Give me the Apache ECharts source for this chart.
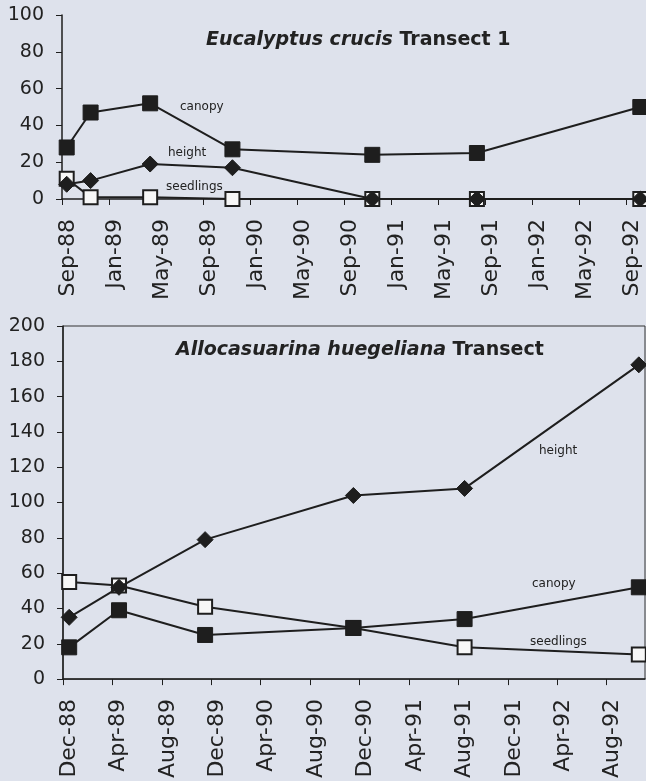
<!DOCTYPE html>
<html>
<head>
<meta charset="utf-8">
<script src="https://cdn.jsdelivr.net/npm/echarts@6/dist/echarts.min.js"></script>
<style>
html,body{margin:0;padding:0;background:#dee2ec;}
#c{width:646px;height:781px;}
</style>
</head>
<body>
<div id="c"></div>
<script>
// ---- Top chart: Eucalyptus crucis Transect 1 ----
const topStart = '1988-09';
const topTickLabels = ['Sep-88','Jan-89','May-89','Sep-89','Jan-90','May-90','Sep-90','Jan-91','May-91','Sep-91','Jan-92','May-92','Sep-92'];
const topDates = ['1988-09-13','1988-11-14','1989-04-16','1989-11-16','1990-11-13','1991-08-10','1992-10-07'];
const topCanopy = [28, 47, 52, 27, 24, 25, 50];
const topHeight = [8, 10, 19, 17, 0, 0, 0];
const topSeedlings = [11, 1, 1, 0, 0, 0, 0];

// ---- Bottom chart: Allocasuarina huegeliana Transect ----
const botStart = '1988-12';
const botTickLabels = ['Dec-88','Apr-89','Aug-89','Dec-89','Apr-90','Aug-90','Dec-90','Apr-91','Aug-91','Dec-91','Apr-92','Aug-92'];
const botDates = ['1988-12-16','1989-04-17','1989-11-16','1990-11-16','1991-08-16','1992-10-19'];
const botCanopy = [18, 39, 25, 29, 34, 52];
const botHeight = [35, 52, 79, 104, 108, 178];
const botSeedlings = [55, 53, 41, 29, 18, 14];

function monthsSince(start, d) {
  const [sy, sm] = start.split('-').map(Number);
  const [y, m, day] = d.split('-').map(Number);
  return (y - sy) * 12 + (m - sm) + (day - 1) / 30;
}
function pairs(start, dates, vals) {
  return dates.map((d, i) => [monthsSince(start, d), vals[i]]);
}

const FONT = 'DejaVu Sans';
const INK = '#1e1e1e';

function xAxisFor(gridIndex, maxM, labels) {
  return {
    type: 'value', gridIndex, min: 0, max: maxM, interval: 4,
    axisLine: {show: true, lineStyle: {color: INK, width: 1.5}},
    axisTick: {show: true, inside: false, length: 6, lineStyle: {color: INK, width: 1}},
    splitLine: {show: false},
    axisLabel: {
      rotate: 90, margin: 20, fontFamily: FONT, fontSize: 22, color: '#222',
      showMaxLabel: false, verticalAlign: 'top', lineHeight: 12,
      formatter: v => { const k = Math.round(v / 4); return (Math.abs(v - k * 4) < 1e-6 && labels[k]) ? labels[k] : ''; }
    }
  };
}
function yAxisFor(gridIndex, maxV) {
  return {
    type: 'value', gridIndex, min: 0, max: maxV, interval: 20,
    axisLine: {show: true, lineStyle: {color: INK, width: 1.5}},
    axisTick: {show: true, inside: false, length: 6, lineStyle: {color: INK, width: 1}},
    splitLine: {show: false},
    axisLabel: {margin: 18, fontFamily: FONT, fontSize: 19, color: '#222'}
  };
}
function seriesFor(idx, data, kind) {
  const base = {
    type: 'line', xAxisIndex: idx, yAxisIndex: idx, data,
    lineStyle: {color: INK, width: 2}, animation: false, silent: true
  };
  if (kind === 'canopy') return Object.assign(base, {symbol: 'rect', symbolSize: 15, itemStyle: {color: INK, borderColor: INK}, z: 4});
  if (kind === 'height') return Object.assign(base, {symbol: 'diamond', symbolSize: 16, itemStyle: {color: INK, borderColor: INK}, z: 3});
  return Object.assign(base, {symbol: 'rect', symbolSize: 14, itemStyle: {color: '#f7f7f7', borderColor: INK, borderWidth: 2}, z: 2});
}

const chart = echarts.init(document.getElementById('c'), null, {renderer: 'canvas'});
const titleStyle = {
  fontFamily: FONT, fontSize: 19, fontWeight: 'bold', color: '#222',
  rich: {i: {fontFamily: FONT, fontSize: 19, fontWeight: 'bold', fontStyle: 'italic', color: '#222'}}
};
const ann = (x, y, t) => ({type: 'text', left: x, top: y, style: {text: t, font: '12px "DejaVu Sans"', fill: '#222'}, silent: true});

chart.setOption({
  backgroundColor: '#dee2ec',
  title: [
    {text: '{i|Eucalyptus crucis} Transect 1', left: 206, top: 31, padding: 0, textStyle: titleStyle},
    {text: '{i|Allocasuarina huegeliana} Transect', left: 176, top: 341, padding: 0, textStyle: titleStyle}
  ],
  grid: [
    {left: 62, top: 15, height: 184, right: 1, show: false},
    {left: 63, top: 326, height: 355, right: 1, show: true, borderColor: '#333', borderWidth: 1, backgroundColor: 'transparent'}
  ],
  xAxis: [xAxisFor(0, 49.6, topTickLabels), xAxisFor(1, 47.1, botTickLabels)],
  yAxis: [yAxisFor(0, 100), yAxisFor(1, 200)],
  series: [
    seriesFor(0, pairs(topStart, topDates, topSeedlings), 'seedlings'),
    seriesFor(0, pairs(topStart, topDates, topHeight), 'height'),
    seriesFor(0, pairs(topStart, topDates, topCanopy), 'canopy'),
    seriesFor(1, pairs(botStart, botDates, botSeedlings), 'seedlings'),
    seriesFor(1, pairs(botStart, botDates, botHeight), 'height'),
    seriesFor(1, pairs(botStart, botDates, botCanopy), 'canopy')
  ],
  graphic: [
    ann(180, 101, 'canopy'),
    ann(168, 147, 'height'),
    ann(166, 181, 'seedlings'),
    ann(539, 445, 'height'),
    ann(532, 578, 'canopy'),
    ann(530, 636, 'seedlings')
  ]
});
</script>
</body>
</html>
